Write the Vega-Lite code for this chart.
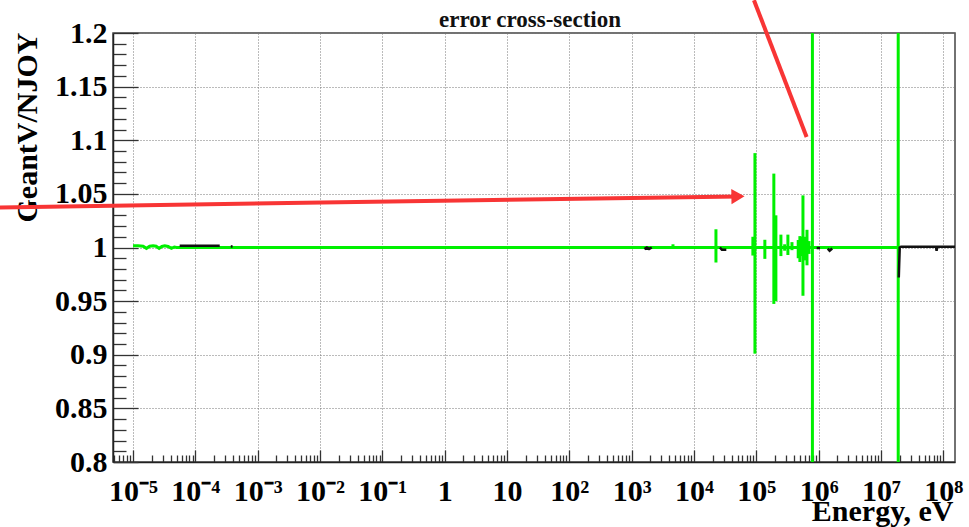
{
  "$schema": "https://vega.github.io/schema/vega-lite/v6.json",
  "width": 842,
  "height": 429,
  "autosize": {"type": "none"},
  "padding": {"left": 113, "top": 33, "right": 14, "bottom": 65},
  "background": "white",
  "config": {"view": {"stroke": "#444", "strokeWidth": 1.5}},
  "title": {"text": "error cross-section", "font": "Liberation Serif", "fontWeight": "bold", "fontSize": 23, "color": "#111", "anchor": "middle", "frame": "group", "baseline": "alphabetic", "offset": 0, "dx": -4, "dy": 52},
  "datasets": {
    "green": [
      {"E": 1e-5, "r": 1.0017}, {"E": 1.2e-5, "r": 1.0017}, {"E": 1.45e-5, "r": 1.0012}, {"E": 1.64e-5, "r": 0.9992},
      {"E": 1.85e-5, "r": 1.0012}, {"E": 2.1e-5, "r": 1.0017}, {"E": 2.35e-5, "r": 1.0012}, {"E": 2.62e-5, "r": 0.9992},
      {"E": 2.9e-5, "r": 1.001}, {"E": 3.23e-5, "r": 1.0017}, {"E": 3.65e-5, "r": 1.001}, {"E": 4.13e-5, "r": 0.9992},
      {"E": 4.6e-5, "r": 1.0005}, {"E": 5.0e-5, "r": 1.0}, {"E": 1.89e7, "r": 1.0}
    ],
    "spikes": [
      {"E": 4.6e3, "lo": 0.999, "hi": 1.003},
      {"E": 2.25e4, "lo": 0.986, "hi": 1.017},
      {"E": 8.8e4, "lo": 0.9925, "hi": 1.010},
      {"E": 9.5e4, "lo": 0.901, "hi": 1.088},
      {"E": 1.37e5, "lo": 0.9894, "hi": 1.0072},
      {"E": 1.91e5, "lo": 0.9474, "hi": 1.0689},
      {"E": 2.06e5, "lo": 0.95, "hi": 1.03},
      {"E": 2.48e5, "lo": 0.992, "hi": 1.012},
      {"E": 2.85e5, "lo": 0.997, "hi": 1.003},
      {"E": 3.21e5, "lo": 0.993, "hi": 1.012},
      {"E": 3.73e5, "lo": 0.9975, "hi": 1.005},
      {"E": 4.7e5, "lo": 0.99, "hi": 1.007},
      {"E": 5.0e5, "lo": 0.9865, "hi": 1.0106},
      {"E": 5.3e5, "lo": 0.992, "hi": 1.01},
      {"E": 5.6e5, "lo": 0.955, "hi": 1.0486},
      {"E": 6.1e5, "lo": 0.988, "hi": 1.01},
      {"E": 6.5e5, "lo": 0.9834, "hi": 1.0165},
      {"E": 7.0e5, "lo": 0.994, "hi": 1.006}
    ],
    "vlines": [{"E": 7.94e5}, {"E": 1.89e7}],
    "black": [
      {"seg": 1, "E": 5.6e-5, "r": 1.0017}, {"seg": 1, "E": 2.46e-4, "r": 1.0017},
      {"seg": 2, "E": 3.7e-4, "r": 1.001}, {"seg": 2, "E": 3.95e-4, "r": 1.001},
      {"seg": 3, "E": 1.6e3, "r": 0.9985}, {"seg": 3, "E": 1.75e3, "r": 1.0}, {"seg": 3, "E": 1.9e3, "r": 0.9985}, {"seg": 3, "E": 2.1e3, "r": 1.0},
      {"seg": 4, "E": 2.6e4, "r": 1.0}, {"seg": 4, "E": 2.8e4, "r": 0.998}, {"seg": 4, "E": 3.3e4, "r": 0.998},
      {"seg": 5, "E": 9.3e5, "r": 0.9995}, {"seg": 5, "E": 1.05e6, "r": 0.9995},
      {"seg": 6, "E": 1.4e6, "r": 0.999}, {"seg": 6, "E": 1.5e6, "r": 0.997}, {"seg": 6, "E": 1.65e6, "r": 0.999},
      {"seg": 7, "E": 1.93e7, "r": 0.972}, {"seg": 7, "E": 1.96e7, "r": 0.985}, {"seg": 7, "E": 2.0e7, "r": 1.0},
      {"seg": 7, "E": 2.1e7, "r": 1.0008}, {"seg": 7, "E": 7.6e7, "r": 1.0008}, {"seg": 7, "E": 7.8e7, "r": 0.997},
      {"seg": 7, "E": 8.0e7, "r": 1.0008}, {"seg": 7, "E": 1.54e8, "r": 1.0008}
    ],
    "arrows": [
      {"xa": 7.26e-8, "ya": 1.0374, "xb": 5.07e4, "yb": 1.0476},
      {"xa": 9.16e4, "ya": 1.2306, "xb": 6.41e5, "yb": 1.1031}
    ],
    "heads": [{"E": 5.07e4, "r": 1.0476}]
  },
  "layer": [
    {
      "data": {"name": "green"},
      "mark": {"type": "line", "color": "#00f000", "strokeWidth": 3, "clip": true},
      "encoding": {
        "x": {
          "field": "E", "type": "quantitative",
          "scale": {"type": "log", "domain": [4.77e-6, 1.54e8], "nice": false},
          "axis": {
            "title": "Energy, eV",
            "titleFont": "Liberation Serif", "titleFontWeight": "bold", "titleFontSize": 30, "titleColor": "#000",
            "titleAlign": "right", "titleBaseline": "alphabetic", "titleX": 840, "titleY": 58, "titleAngle": 0,
            "tickCount": 1000,
            "values": [5e-6, 6e-6, 7e-6, 8e-6, 9e-6,
              1e-5, 2e-5, 3e-5, 4e-5, 5e-5, 6e-5, 7e-5, 8e-5, 9e-5,
              1e-4, 2e-4, 3e-4, 4e-4, 5e-4, 6e-4, 7e-4, 8e-4, 9e-4,
              1e-3, 2e-3, 3e-3, 4e-3, 5e-3, 6e-3, 7e-3, 8e-3, 9e-3,
              0.01, 0.02, 0.03, 0.04, 0.05, 0.06, 0.07, 0.08, 0.09,
              0.1, 0.2, 0.3, 0.4, 0.5, 0.6, 0.7, 0.8, 0.9,
              1, 2, 3, 4, 5, 6, 7, 8, 9,
              10, 20, 30, 40, 50, 60, 70, 80, 90,
              100, 200, 300, 400, 500, 600, 700, 800, 900,
              1000, 2000, 3000, 4000, 5000, 6000, 7000, 8000, 9000,
              1e4, 2e4, 3e4, 4e4, 5e4, 6e4, 7e4, 8e4, 9e4,
              1e5, 2e5, 3e5, 4e5, 5e5, 6e5, 7e5, 8e5, 9e5,
              1e6, 2e6, 3e6, 4e6, 5e6, 6e6, 7e6, 8e6, 9e6,
              1e7, 2e7, 3e7, 4e7, 5e7, 6e7, 7e7, 8e7, 9e7,
              1e8],
            "labelExpr": "abs(log(datum.value)/LN10 - round(log(datum.value)/LN10)) > 0.001 ? '' : (round(log(datum.value)/LN10) == 0 ? '1' : (round(log(datum.value)/LN10) == 1 ? '10' : '10' + (datum.value < 1 ? '⁻' : '') + substring('⁰¹²³⁴⁵⁶⁷⁸⁹', abs(round(log(datum.value)/LN10)), abs(round(log(datum.value)/LN10)) + 1)))",
            "labelFont": "Liberation Serif", "labelFontWeight": "bold", "labelFontSize": 30, "labelColor": "#000",
            "labelBaseline": "alphabetic", "labelPadding": 50, "labelOverlap": false, "labelFlush": false, "labelAngle": 0,
            "tickSize": {"condition": {"test": "abs(log(datum.value)/LN10 - round(log(datum.value)/LN10)) < 0.001", "value": -12}, "value": -7},
            "tickColor": "#333", "tickWidth": 1.3,
            "grid": true, "gridColor": "#777", "gridDash": [1, 2], "gridWidth": 1,
            "gridOpacity": {"condition": {"test": "abs(log(datum.value)/LN10 - round(log(datum.value)/LN10)) < 0.001", "value": 1}, "value": 0},
            "domainColor": "#222", "domainWidth": 1.5
          }
        },
        "y": {
          "field": "r", "type": "quantitative",
          "scale": {"domain": [0.8, 1.2], "nice": false, "zero": false},
          "axis": {
            "title": "GeantV/NJOY",
            "titleFont": "Liberation Serif", "titleFontWeight": "bold", "titleFontSize": 30, "titleColor": "#000",
            "titleAngle": -90, "titleAlign": "right", "titleBaseline": "alphabetic", "titleX": -77, "titleY": -1,
            "tickCount": 1000,
            "values": [0.8, 0.81, 0.82, 0.83, 0.84, 0.85, 0.86, 0.87, 0.88, 0.89, 0.9, 0.91, 0.92, 0.93, 0.94, 0.95, 0.96, 0.97, 0.98, 0.99, 1.0, 1.01, 1.02, 1.03, 1.04, 1.05, 1.06, 1.07, 1.08, 1.09, 1.1, 1.11, 1.12, 1.13, 1.14, 1.15, 1.16, 1.17, 1.18, 1.19, 1.2],
            "labelExpr": "abs(datum.value*20 - round(datum.value*20)) > 0.001 ? '' : format(datum.value, '.3~g')",
            "labelFont": "Liberation Serif", "labelFontWeight": "bold", "labelFontSize": 30, "labelColor": "#000",
            "labelBaseline": "middle", "labelAlign": "right", "labelPadding": 31, "labelOverlap": false, "labelFlush": false,
            "tickSize": {"condition": {"test": "abs(datum.value*20 - round(datum.value*20)) < 0.001", "value": -25}, "value": -13},
            "tickColor": "#333", "tickWidth": 1.3,
            "grid": true, "gridColor": "#777", "gridDash": [1, 2], "gridWidth": 1,
            "gridOpacity": {"condition": {"test": "abs(datum.value*20 - round(datum.value*20)) < 0.001", "value": 1}, "value": 0},
            "domainColor": "#222", "domainWidth": 1.5
          }
        }
      }
    },
    {
      "data": {"name": "spikes"},
      "mark": {"type": "rule", "color": "#00f000", "strokeWidth": 3, "clip": true},
      "encoding": {
        "x": {"field": "E", "type": "quantitative"},
        "y": {"field": "lo", "type": "quantitative"},
        "y2": {"field": "hi"}
      }
    },
    {
      "data": {"name": "vlines"},
      "mark": {"type": "rule", "color": "#00f000", "strokeWidth": 3, "clip": true},
      "encoding": {
        "x": {"field": "E", "type": "quantitative"}
      }
    },
    {
      "data": {"name": "black"},
      "mark": {"type": "line", "color": "#111", "strokeWidth": 2.5, "clip": true},
      "encoding": {
        "x": {"field": "E", "type": "quantitative"},
        "y": {"field": "r", "type": "quantitative"},
        "detail": {"field": "seg", "type": "nominal"}
      }
    },
    {
      "data": {"name": "arrows"},
      "mark": {"type": "rule", "color": "#f83535", "strokeWidth": 4, "clip": false},
      "encoding": {
        "x": {"field": "xa", "type": "quantitative"},
        "y": {"field": "ya", "type": "quantitative"},
        "x2": {"field": "xb"},
        "y2": {"field": "yb"}
      }
    },
    {
      "data": {"name": "heads"},
      "mark": {"type": "point", "shape": "triangle-right", "filled": true, "color": "#f83535", "opacity": 1, "size": 230, "angle": -1, "clip": false},
      "encoding": {
        "x": {"field": "E", "type": "quantitative"},
        "y": {"field": "r", "type": "quantitative"}
      }
    }
  ]
}
